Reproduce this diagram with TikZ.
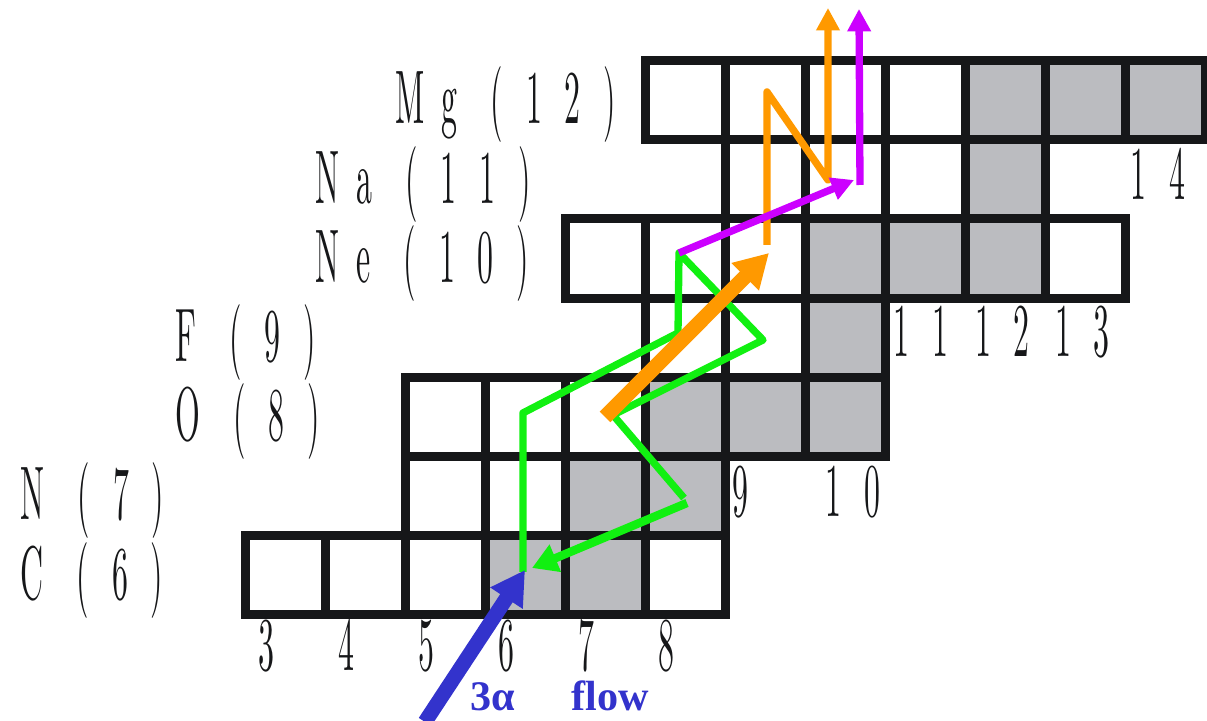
\documentclass[tikz,border=0pt]{standalone}
\usepackage{fontspec}
\usetikzlibrary{arrows.meta}
\newfontfamily\chartfont[Extension=.otf,FakeStretch=0.42,LetterSpace=30]{lmroman10-regular}
\newfontfamily\flowfont{Liberation Serif}
\definecolor{ink}{HTML}{161719}
\definecolor{stablegrey}{HTML}{BBBCC0}
\definecolor{alphablue}{HTML}{3333CC}
\definecolor{cnogreen}{HTML}{11F011}
\definecolor{breakorange}{HTML}{FF9900}
\definecolor{breakpurple}{HTML}{CC00FF}
\newcommand{\elsp}{\hspace{6pt}}
\tikzset{
  cell/.style={rectangle, draw=ink, fill=white, line width=3.2pt,
               minimum width=1cm, minimum height=0.99cm, inner sep=0pt},
  stablecell/.style={cell, fill=stablegrey},
  elem/.style={anchor=base west, inner sep=0pt, text=ink,
               font=\chartfont\fontsize{27}{30}\selectfont},
  flowlbl/.style={anchor=base west, inner sep=0pt, text=alphablue,
               font=\flowfont\bfseries\fontsize{15}{17}\selectfont},
  alphaflow/.style={draw=alphablue, line width=5.3pt, -{Triangle[length=12pt,width=13pt]}},
  cnoflow/.style={draw=cnogreen, line width=2.6pt, line join=round},
  cnoback/.style={draw=cnogreen, line width=3pt, -{Triangle[length=9pt,width=10pt]}},
  breakflow/.style={draw=breakorange, line width=5.3pt, -{Triangle[length=12pt,width=13pt]}},
  orangeflow/.style={draw=breakorange, line width=2.6pt, line join=round, -{Triangle[length=8pt,width=8pt]}},
  purpleflow/.style={draw=breakpurple, line width=2.6pt, -{Triangle[length=8pt,width=8pt]}}
}
\begin{document}
\begin{tikzpicture}[x=1cm, y=0.99cm]
\useasboundingbox (-0.0625,4.674) rectangle (15.025,13.765);

% --- chart: Z / first N / last N
\foreach \z/\first/\last in {6/3/8, 7/5/8, 8/5/10, 9/8/10, 10/7/13, 11/9/12, 12/8/14}
  \foreach \n in {\first,...,\last}
    \node[cell] (c\z-\n) at (\n+0.5,\z+0.5) {};
% --- stable nuclei
\foreach \z/\n in {6/6, 6/7, 7/7, 7/8, 8/8, 8/9, 8/10, 9/10, 10/10, 10/11, 10/12, 11/12, 12/12, 12/13, 12/14}
  \node[stablecell] (s\z-\n) at (\n+0.5,\z+0.5) {};

% --- element labels
\node[elem] (lMg) at (4.875,12.2) {M\elsp g (12)};
\node[elem] (lNa) at (3.875,11.2) {N\elsp a (11)};
\node[elem] (lNe) at (3.875,10.2) {N\elsp e (10)};
\node[elem] (lF)  at (2.125,9.2)  {F (9)};
\node[elem] (lO)  at (2.125,8.2)  {O (8)};
\node[elem] (lN)  at (0.1875,7.2) {N (7)};
\node[elem] (lC)  at (0.1875,6.2) {C (6)};

% --- neutron numbers
\foreach \n in {3,...,8}
  \node[elem] (n\n) at (\n+0.16,5.3) {\n};
\node[elem] (n9)  at (9.09,7.24)  {9};
\node[elem] (n10) at (10.25,7.24) {10};
\node[elem] (n11) at (11.1,9.26)  {11};
\node[elem] (n12) at (12.12,9.26) {12};
\node[elem] (n13) at (13.12,9.26) {13};
\node[elem] (n14) at (14.06,11.24) {14};

% --- flow points
\coordinate (aTail) at (5.25,4.649);
\coordinate (aTip)  at (6.5,6.568);
\coordinate (g1) at (6.475,6.543);
\coordinate (g2) at (6.475,8.551);
\coordinate (g3) at (8.4125,9.561);
\coordinate (g4) at (8.425,10.571);
\coordinate (g5) at (9.475,9.472);
\coordinate (g6) at (7.6,8.525);
\coordinate (g7) at (8.4875,7.477);
\coordinate (gBack) at (8.525,7.414);
\coordinate (gTip)  at (6.5875,6.593);
\coordinate (oTail) at (7.5,8.5);
\coordinate (oTip)  at (9.55,10.571);
\coordinate (o1) at (9.525,10.672);
\coordinate (o2) at (9.525,12.604);
\coordinate (o3) at (10.2875,11.492);
\coordinate (oOut) at (10.2875,13.664);
\coordinate (pTip) at (10.6125,11.492);
\coordinate (p1)   at (10.6875,11.429);
\coordinate (pOut) at (10.675,13.652);

% --- flows
\draw[cnoflow] (g1) -- (g2) -- (g3) -- (g4) -- (g5) -- (g6) -- (g7);
\draw[cnoback] (gBack) -- (gTip);
\draw[alphaflow] (aTail) -- (aTip);
\draw[breakflow] (oTail) -- (oTip);
\draw[orangeflow] (o1) -- (o2) -- (o3) -- (oOut);
\draw[purpleflow] (g4) -- (pTip);
\draw[purpleflow] (p1) -- (pOut);

\node[flowlbl] (flow) at (5.8125,4.79) {3α\hspace{20pt}flow};
\end{tikzpicture}
\end{document}
